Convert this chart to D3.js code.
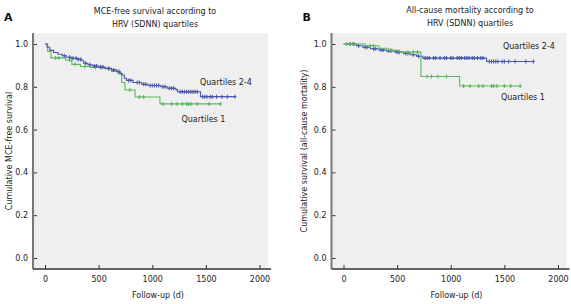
<!DOCTYPE html>
<html><head><meta charset="utf-8">
<script src="https://cdn.jsdelivr.net/npm/d3@7"></script>
<style>body{margin:0;background:#fff}svg{display:block}text{font-family:"DejaVu Sans",Verdana,sans-serif}</style>
</head><body><svg id="c" width="571" height="304"></svg>
<script>
// ---------- data ----------
const xTicks = [0, 500, 1000, 1500, 2000];
const yTicks = [0.0, 0.2, 0.4, 0.6, 0.8, 1.0];

// Panel A: MCE-free survival
const aBlueTime = [0, 20, 45, 80, 120, 160, 200, 250, 300, 345, 360, 400, 440, 500, 560, 620, 670, 700, 720, 740, 760, 820, 900, 960, 1080, 1140, 1220, 1235, 1450];
const aBlueSurv = [1.0, 0.985, 0.97, 0.96, 0.952, 0.945, 0.938, 0.933, 0.928, 0.922, 0.91, 0.903, 0.897, 0.892, 0.886, 0.879, 0.871, 0.863, 0.855, 0.84, 0.83, 0.82, 0.812, 0.806, 0.80, 0.793, 0.787, 0.777, 0.754];
const aBlueEnd = 1775;
const aBlueCens = [180, 230, 260, 290, 310, 330, 380, 420, 460, 480, 520, 540, 590, 640, 690, 780, 800, 860, 880, 920, 940, 980, 1000, 1020, 1040, 1060, 1100, 1120, 1160, 1180, 1200, 1260, 1280, 1300, 1320, 1340, 1360, 1380, 1400, 1420, 1470, 1490, 1510, 1540, 1560, 1600, 1650, 1700, 1770];
const aGreenTime = [0, 25, 55, 190, 250, 330, 420, 560, 620, 680, 715, 745, 840, 1072];
const aGreenSurv = [1.0, 0.965, 0.935, 0.925, 0.905, 0.895, 0.89, 0.885, 0.872, 0.862, 0.82, 0.785, 0.752, 0.72];
const aGreenEnd = 1635;
const aGreenCens = [100, 130, 230, 280, 370, 470, 520, 600, 700, 790, 880, 920, 1100, 1180, 1230, 1280, 1320, 1340, 1360, 1420, 1530, 1635];

// Panel B: all-cause mortality
const bBlueTime = [0, 120, 180, 250, 330, 400, 480, 560, 620, 680, 740, 1334];
const bBlueSurv = [1.0, 0.992, 0.985, 0.978, 0.972, 0.968, 0.962, 0.956, 0.95, 0.943, 0.934, 0.918];
const bBlueEnd = 1775;
const bBlueCens = [60, 90, 140, 200, 220, 280, 300, 350, 370, 420, 440, 500, 520, 580, 600, 650, 700, 760, 780, 800, 840, 860, 900, 940, 960, 1000, 1020, 1060, 1080, 1100, 1130, 1150, 1170, 1200, 1220, 1250, 1280, 1300, 1360, 1380, 1400, 1420, 1440, 1480, 1500, 1540, 1600, 1700, 1770];
const bGreenTime = [0, 204, 330, 420, 520, 722, 1083];
const bGreenSurv = [1.0, 0.992, 0.98, 0.97, 0.962, 0.848, 0.804];
const bGreenEnd = 1648;
const bGreenCens = [30, 60, 100, 250, 280, 450, 600, 650, 690, 780, 820, 880, 960, 1120, 1180, 1260, 1300, 1380, 1400, 1430, 1500, 1560, 1648];

const panels = [
  {letter: "A", title: ["MCE-free survival according to", "HRV (SDNN) quartiles"], ylab: "Cumulative MCE-free survival",
   dx: 0, titleX: 155, titleY: [13.5, 26.5],
   series: [
     {t: aGreenTime, s: aGreenSurv, end: aGreenEnd, c: aGreenCens, col: "#5cb85c"},
     {t: aBlueTime, s: aBlueSurv, end: aBlueEnd, c: aBlueCens, col: "#4a58a8"}],
   labels: [{txt: "Quartiles 2-4", x: 200, y: 85}, {txt: "Quartiles 1", x: 181.5, y: 122}]},
  {letter: "B", title: ["All-cause mortality according to", "HRV (SDNN) quartiles"], ylab: "Cumulative survival (all-cause mortality)",
   dx: 298.5, titleX: 470, titleY: [12.5, 25.5],
   series: [
     {t: bBlueTime, s: bBlueSurv, end: bBlueEnd, c: bBlueCens, col: "#4a58a8"},
     {t: bGreenTime, s: bGreenSurv, end: bGreenEnd, c: bGreenCens, col: "#5cb85c"}],
   labels: [{txt: "Quartiles 2-4", x: 503, y: 49}, {txt: "Quartiles 1", x: 501, y: 100}]}
];

const svg = d3.select("#c");

panels.forEach(p => {
  const g = svg.append("g").attr("transform", `translate(${p.dx},0)`);
  const axX = 33, top = 33, bottom = 269, right = 268;
  const x = d3.scaleLinear().domain([0, 2000]).range([45, 259.5]);
  const y = d3.scaleLinear().domain([0, 1]).range([258, 44]);

  g.append("rect").attr("x", axX).attr("y", top).attr("width", right - axX).attr("height", bottom - top).attr("fill", "#efefef");

  // y axis
  const ya = g.append("g").attr("transform", `translate(${axX},0)`)
    .call(d3.axisLeft(y).tickValues(yTicks).tickFormat(d3.format(".1f")).tickSize(-4).tickSizeOuter(0).tickPadding(5));
  ya.select(".domain").remove();
  ya.selectAll(".tick line").attr("stroke", "#333");
  ya.selectAll("text").attr("font-size", 8).attr("fill", "#222").attr("font-family", "DejaVu Sans");
  // x axis
  const xa = g.append("g").attr("transform", `translate(0,${bottom})`)
    .call(d3.axisBottom(x).tickValues(xTicks).tickFormat(d3.format("d")).tickSize(-4).tickSizeOuter(0).tickPadding(7));
  xa.select(".domain").remove();
  xa.selectAll(".tick line").attr("stroke", "#333");
  xa.selectAll("text").attr("font-size", 8).attr("fill", "#222").attr("font-family", "DejaVu Sans");

  g.append("line").attr("x1", axX).attr("x2", axX).attr("y1", top).attr("y2", bottom).attr("stroke", "#777").attr("stroke-width", 2);
  g.append("line").attr("x1", axX).attr("x2", right + 3).attr("y1", bottom).attr("y2", bottom).attr("stroke", "#333").attr("stroke-width", 1.3);

  // curves
  p.series.forEach(s => {
    const pts = s.t.map((t, i) => [t, s.s[i]]);
    pts.push([s.end, s.s[s.s.length - 1]]);
    const line = d3.line().x(d => x(d[0])).y(d => y(d[1])).curve(d3.curveStepAfter);
    g.append("path").attr("d", line(pts)).attr("fill", "none").attr("stroke", s.col).attr("stroke-width", 1.1);
    const survAt = t => { let v = s.s[0]; for (let i = 0; i < s.t.length; i++) if (s.t[i] <= t) v = s.s[i]; return v; };
    g.selectAll(null).data(s.c).enter().append("path")
      .attr("d", d => { const cx = x(d), cy = y(survAt(d)); return `M${cx},${cy - 2}V${cy + 2}M${cx - 1.5},${cy}H${cx + 1.5}`; })
      .attr("stroke", s.col).attr("stroke-width", 1.1).attr("fill", "none");
  });

  p.labels.forEach(l => g.append("text").attr("x", l.x - p.dx).attr("y", l.y).attr("font-size", 8).attr("fill", "#222").text(l.txt));

  // titles
  p.title.forEach((t, i) => g.append("text").attr("x", p.titleX - p.dx).attr("y", p.titleY[i]).attr("text-anchor", "middle").attr("font-size", 8).attr("fill", "#222").text(t));
  g.append("text").attr("x", 4).attr("y", 21).attr("font-size", 11).attr("font-weight", "bold").attr("fill", "#111").text(p.letter);
  g.append("text").attr("transform", `translate(${p.dx === 0 ? 9 : 5.5},151) rotate(-90)`).attr("text-anchor", "middle").attr("dominant-baseline", "central").attr("font-size", 8).attr("fill", "#222").text(p.ylab);
  g.append("text").attr("x", 158).attr("y", 298).attr("text-anchor", "middle").attr("font-size", 8).attr("fill", "#222").text("Follow-up (d)");
});
</script></body></html>
